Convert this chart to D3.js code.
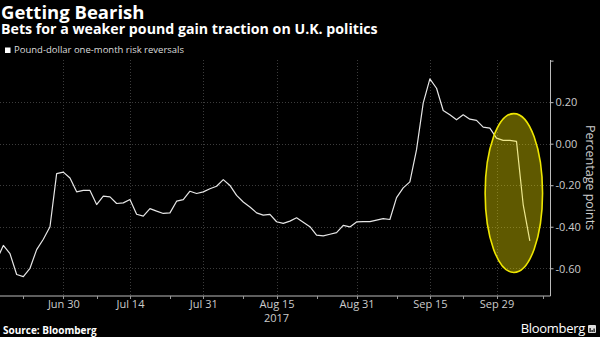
<!DOCTYPE html>
<html><head><meta charset="utf-8">
<script src="https://cdn.jsdelivr.net/npm/d3@7"></script>
<style>
html,body{margin:0;padding:0;background:#000;}
svg{display:block;}
text{font-family:"Open Sans","DejaVu Sans",sans-serif;}
</style></head>
<body>
<svg id="c" width="600" height="337"></svg>
<script>
// Business-day series starting 2017-06-16 (Fri) through 2017-10-06
const startDate = "2017-06-16";
const values = [
 -0.56, -0.49, -0.53, -0.63, -0.64, -0.60, -0.51, -0.46, -0.40, -0.144,
 -0.137, -0.165, -0.232, -0.225, -0.225, -0.293, -0.253, -0.256, -0.288, -0.285,
 -0.269, -0.34, -0.349, -0.313, -0.325, -0.336, -0.333, -0.277, -0.269, -0.229,
 -0.24, -0.232, -0.217, -0.205, -0.173, -0.201, -0.249, -0.281, -0.305, -0.333,
 -0.344, -0.34, -0.376, -0.384, -0.373, -0.357, -0.378, -0.40, -0.44, -0.444,
 -0.436, -0.428, -0.393, -0.401, -0.377, -0.375, -0.375, -0.368, -0.361, -0.365,
 -0.26, -0.213, -0.184, -0.029, 0.195, 0.312, 0.267, 0.16, 0.139, 0.115,
 0.139, 0.118, 0.112, 0.08, 0.075, 0.027, 0.016, 0.016, 0.011, -0.293,
 -0.468
];
const tickLabels = ["Jun 30","Jul 14","Jul 31","Aug 15","Aug 31","Sep 15","Sep 29"];
const tickDates = ["2017-06-30","2017-07-14","2017-07-31","2017-08-15","2017-08-31","2017-09-15","2017-09-29"];
const minorTickDates = ["2017-06-22","2017-07-07","2017-07-24","2017-08-08","2017-08-23","2017-09-08","2017-09-22","2017-10-10"];
const yTicks = [0.4, 0.2, 0.0, -0.2, -0.4, -0.6];
const yearLabel = "2017";
const highlight = {from:"2017-09-28", to:"2017-10-06", top:0.145, bottom:-0.62};

// build business-day list
const parse = d3.timeParse("%Y-%m-%d");
const days = [];
{
  let d = parse(startDate);
  while (days.length < values.length + 5) {
    const wd = d.getDay();
    if (wd !== 0 && wd !== 6) days.push(new Date(d));
    d = d3.timeDay.offset(d, 1);
  }
}
const fmt = d3.timeFormat("%Y-%m-%d");
const idxOf = s => days.findIndex(d => fmt(d) === s);
const data = values.map((v,i)=>({i, v}));

const svg = d3.select("#c");
const L = 0, R = 550.5, T = 60, B = 296;
const x = d3.scaleLinear().domain([0.5, 83.1]).range([L, R]);
const y = d3.scaleLinear().domain([-0.7335, 0.403]).range([B, T]);

svg.append("defs").append("clipPath").attr("id","clip")
  .append("rect").attr("x",L).attr("y",T).attr("width",R-L).attr("height",B-T);

// grid
const grid = svg.append("g").attr("stroke","#3c3c3c").attr("stroke-width",1).attr("stroke-dasharray","1,2");
yTicks.filter(t=>t<0.39).forEach(t=>{
  grid.append("line").attr("x1",L).attr("x2",R).attr("y1",Math.round(y(t))+0.5).attr("y2",Math.round(y(t))+0.5);
});
tickDates.forEach(s=>{
  const xv = Math.round(x(idxOf(s)))+0.5;
  grid.append("line").attr("x1",xv).attr("x2",xv).attr("y1",T).attr("y2",B);
});

// axes
const yAxis = d3.axisRight(y).tickValues(yTicks).tickSize(3)
  .tickFormat(d => d >= 0.39 ? "" : d3.format(".2f")(d).replace("−","-"));
const gy = svg.append("g").attr("transform",`translate(${R},0)`).call(yAxis);
gy.select(".domain").attr("stroke","#bbb").attr("d",`M0,${T}V${B}`);
gy.selectAll(".tick line").attr("stroke","#bbb");
gy.selectAll(".tick text").attr("fill","#ccc").attr("font-size","11px").attr("x",5).attr("dy","0.34em");

const xAxis = d3.axisBottom(x).tickValues(tickDates.map(idxOf)).tickSize(0)
  .tickFormat((d,i)=>tickLabels[i]);
const gx = svg.append("g").attr("transform",`translate(0,${B})`).call(xAxis);
gx.select(".domain").attr("stroke","#bbb").attr("d",`M${L},0H${R}`);
gx.selectAll(".tick text").attr("fill","#ccc").attr("font-size","11px").attr("y",4).attr("dy","0.71em");
const allTicks = tickDates.concat(minorTickDates).map(idxOf);
svg.append("g").selectAll("line").data(allTicks).join("line")
  .attr("x1",d=>Math.round(x(d))+0.5).attr("x2",d=>Math.round(x(d))+0.5)
  .attr("y1",B).attr("y2",B+3).attr("stroke","#999");
svg.append("text").attr("x",x(idxOf("2017-08-15"))).attr("y",321.5)
  .attr("text-anchor","middle").attr("fill","#ccc").attr("font-size","11px").text(yearLabel);

// line
const line = d3.line().x(d=>x(d.i)).y(d=>y(d.v));
svg.append("path").datum(data).attr("clip-path","url(#clip)")
  .attr("fill","none").attr("stroke","#e6e6e6").attr("stroke-width",1.2)
  .attr("stroke-linejoin","round").attr("d",line);

// highlight ellipse
const ex1 = x(idxOf(highlight.from)), ex2 = x(idxOf(highlight.to));
const rx = 28.7;
const cy = (y(highlight.top)+y(highlight.bottom))/2, ry = (y(highlight.bottom)-y(highlight.top))/2;
svg.append("ellipse").attr("cx",(ex1+ex2)/2 + 4).attr("cy",cy).attr("rx",rx).attr("ry",ry)
  .attr("fill","rgba(250,235,0,0.38)").attr("stroke","#eee600").attr("stroke-width",1.6);

// y title
svg.append("text").attr("transform","translate(586,177.5) rotate(90)")
  .attr("text-anchor","middle").attr("fill","#ccc").attr("font-size","12.5px").text("Percentage points");

// titles
svg.append("text").attr("x",1).attr("y",18.5).attr("fill","#fff").attr("font-size","18.5px").attr("font-weight","bold").text("Getting Bearish");
svg.append("text").attr("x",1).attr("y",33.5).attr("fill","#fff").attr("font-size","14.2px").attr("font-weight","bold").text("Bets for a weaker pound gain traction on U.K. politics");
svg.append("rect").attr("x",5).attr("y",47.5).attr("width",5.5).attr("height",5.5).attr("fill","#fff");
svg.append("text").attr("x",14).attr("y",53.3).attr("fill","#ddd").attr("font-size","9.5px").text("Pound-dollar one-month risk reversals");

// footer
svg.append("text").attr("x",3).attr("y",334).attr("fill","#fff").attr("font-size","10px").attr("font-weight","bold").text("Source: Bloomberg");
svg.append("text").attr("x",585).attr("y",333.3).attr("text-anchor","end").attr("fill","#fff").attr("font-size","13px").attr("font-weight","500").attr("letter-spacing","-0.3").text("Bloomberg");
const ic = svg.append("g").attr("transform","translate(588,325)");
ic.append("rect").attr("width",8).attr("height",8).attr("fill","#ddd").attr("rx",1);
[[1.5,4],[3.5,2],[5.5,3.5]].forEach(([xx,h])=>ic.append("rect").attr("x",xx).attr("y",7-h).attr("width",1.2).attr("height",h).attr("fill","#000"));
</script>
</body></html>
